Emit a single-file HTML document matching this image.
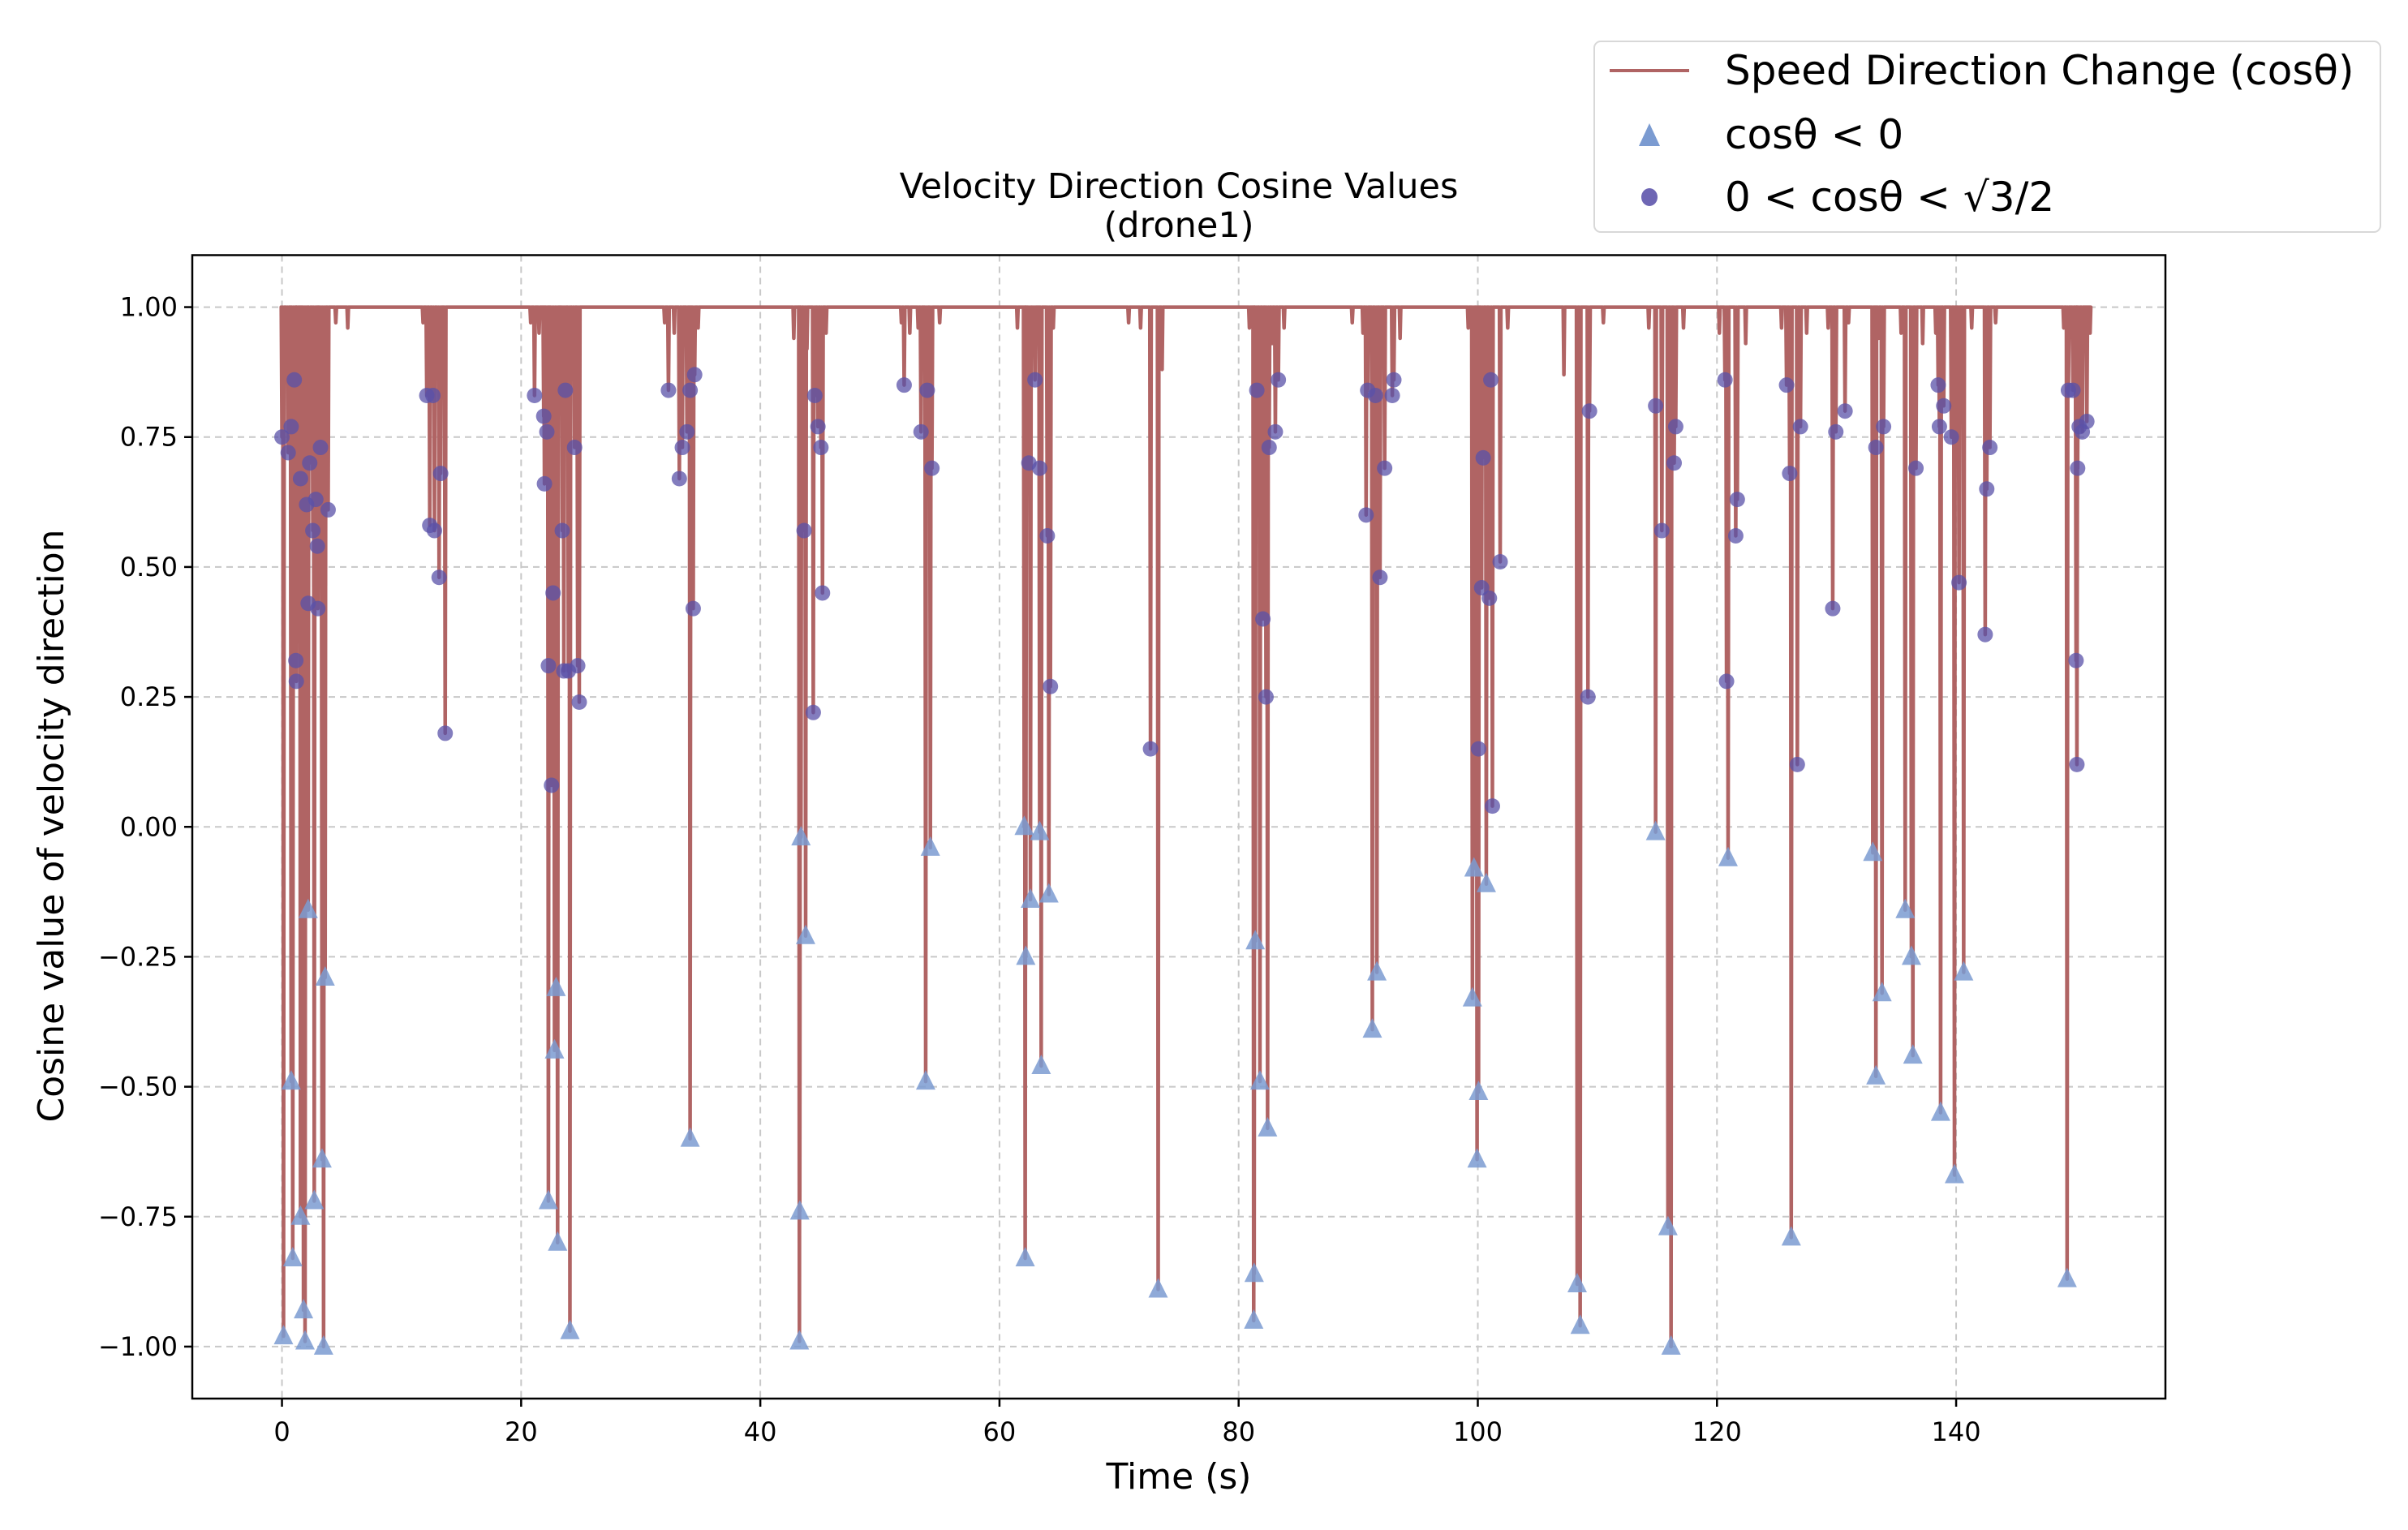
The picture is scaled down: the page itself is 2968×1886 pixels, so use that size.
<!DOCTYPE html>
<html><head><meta charset="utf-8"><style>
html,body{margin:0;padding:0;background:#fff;}
svg{display:block;font-family:"DejaVu Sans","Liberation Sans",sans-serif;}
</style></head><body>
<svg id="chart" width="2968" height="1886" viewBox="0 0 2968 1886">
<rect width="2968" height="1886" fill="#fff"/>
<g id="grid"></g>
<g id="series"></g>
<rect x="237" y="314.5" width="2432" height="1409.5" fill="none" stroke="#000" stroke-width="2.5"/>
<g id="ticks"></g>
<text x="1453" y="244" font-size="43" text-anchor="middle">Velocity Direction Cosine Values</text>
<text x="1453" y="292" font-size="43" text-anchor="middle">(drone1)</text>
<text x="1453" y="1835" font-size="44" text-anchor="middle">Time (s)</text>
<text transform="translate(78,1018) rotate(-90)" font-size="44" text-anchor="middle">Cosine value of velocity direction</text>
<g>
<rect x="1965" y="51" width="969" height="235" rx="8" fill="#fff" fill-opacity="0.85" stroke="#d8d8d8" stroke-width="2"/>
<line x1="1984" y1="87" x2="2082" y2="87" stroke="#b06464" stroke-width="4"/>
<text x="2126" y="104" font-size="50">Speed Direction Change (cosθ)</text>
<polygon points="2033,152 2046,180 2020,180" fill="#7b9bd1"/>
<text x="2126" y="183" font-size="50">cosθ &lt; 0</text>
<ellipse cx="2033" cy="243" rx="10" ry="11" fill="#6e66b4"/>
<text x="2126" y="260" font-size="50">0 &lt; cosθ &lt; √3/2</text>
</g>
</svg>
<script>
const xTicks=[0,20,40,60,80,100,120,140];
const yTicks=[-1.00,-0.75,-0.50,-0.25,0.00,0.25,0.50,0.75,1.00];
const yTickLabels=["−1.00","−0.75","−0.50","−0.25","0.00","0.25","0.50","0.75","1.00"];
const triT=[0.13,0.77,0.90,1.55,1.80,1.93,2.19,2.70,3.35,3.48,3.61,22.28,22.79,22.92,23.05,24.08,34.13,43.27,43.30,43.40,43.79,53.83,54.22,62.07,62.20,62.15,62.59,63.36,63.49,64.13,73.27,81.26,81.39,81.30,81.78,82.42,91.18,91.56,99.55,99.68,99.94,100.06,100.71,108.31,108.56,114.87,115.90,116.16,120.93,126.21,133.03,133.29,133.80,135.74,136.26,136.38,138.70,139.86,140.63,149.28];
const triV=[-0.98,-0.49,-0.83,-0.75,-0.93,-0.99,-0.16,-0.72,-0.64,-1.00,-0.29,-0.72,-0.43,-0.31,-0.80,-0.97,-0.60,-0.99,-0.74,-0.02,-0.21,-0.49,-0.04,0.00,-0.25,-0.83,-0.14,-0.01,-0.46,-0.13,-0.89,-0.95,-0.22,-0.86,-0.49,-0.58,-0.39,-0.28,-0.33,-0.08,-0.64,-0.51,-0.11,-0.88,-0.96,-0.01,-0.77,-1.00,-0.06,-0.79,-0.05,-0.48,-0.32,-0.16,-0.25,-0.44,-0.55,-0.67,-0.28,-0.87];
const cirT=[0,0.52,0.77,1.03,1.16,1.20,1.55,2.06,2.19,2.32,2.58,2.83,2.96,3.00,3.22,3.86,12.11,12.36,12.62,12.75,13.14,13.27,13.65,21.12,21.89,21.95,22.15,22.28,22.54,22.67,23.44,23.57,23.70,23.95,24.47,24.73,24.86,32.32,33.23,33.48,33.87,34.13,34.39,34.51,43.66,44.43,44.56,44.82,45.07,45.20,52.03,53.44,53.96,54.35,62.46,62.97,63.36,64.00,64.26,72.63,81.52,82.03,82.29,82.55,83.07,83.32,90.66,90.79,91.44,91.82,92.21,92.85,92.98,100.06,100.32,100.45,100.97,101.09,101.22,101.87,109.21,109.34,114.87,115.39,116.42,116.55,120.67,120.80,121.57,121.70,125.82,126.08,126.72,126.98,129.68,129.94,130.71,133.29,133.93,136.64,138.50,138.60,138.96,139.60,140.24,142.43,142.56,142.82,149.39,149.77,150.03,150.16,150.10,150.29,150.55,150.93];
const cirV=[0.75,0.72,0.77,0.86,0.32,0.28,0.67,0.62,0.43,0.70,0.57,0.63,0.54,0.42,0.73,0.61,0.83,0.58,0.83,0.57,0.48,0.68,0.18,0.83,0.79,0.66,0.76,0.31,0.08,0.45,0.57,0.30,0.84,0.30,0.73,0.31,0.24,0.84,0.67,0.73,0.76,0.84,0.42,0.87,0.57,0.22,0.83,0.77,0.73,0.45,0.85,0.76,0.84,0.69,0.70,0.86,0.69,0.56,0.27,0.15,0.84,0.40,0.25,0.73,0.76,0.86,0.60,0.84,0.83,0.48,0.69,0.83,0.86,0.15,0.46,0.71,0.44,0.86,0.04,0.51,0.25,0.80,0.81,0.57,0.70,0.77,0.86,0.28,0.56,0.63,0.85,0.68,0.12,0.77,0.42,0.76,0.80,0.73,0.77,0.69,0.85,0.77,0.81,0.75,0.47,0.37,0.65,0.73,0.84,0.84,0.32,0.69,0.12,0.77,0.76,0.78];
const minorT=[0.4,1.3,2.5,4.5,5.5,11.8,13.0,20.8,21.5,24.3,32.0,32.8,34.8,42.8,43.9,45.5,51.8,52.5,53.2,55.0,61.5,62.8,64.5,70.8,71.8,73.6,80.9,82.8,83.8,89.5,90.4,93.5,99.2,102.5,107.2,110.5,114.3,117.2,120.2,122.4,125.4,127.5,129.3,131.0,133.5,135.4,137.2,138.3,141.3,143.3,149.0,151.2];
const minorV=[0.93,0.90,0.95,0.97,0.96,0.97,0.88,0.97,0.95,0.93,0.97,0.95,0.96,0.94,0.92,0.95,0.97,0.95,0.96,0.97,0.96,0.92,0.96,0.97,0.96,0.88,0.96,0.93,0.96,0.97,0.95,0.94,0.96,0.96,0.87,0.97,0.96,0.96,0.95,0.93,0.96,0.95,0.96,0.97,0.94,0.95,0.93,0.95,0.96,0.97,0.96,0.95];

const X0=237,X1=2669,Y0=314.5,Y1=1724,TMIN=-7.5,TMAX=157.5,VMIN=-1.1,VMAX=1.1;
function xs(t){return X0+(t-TMIN)/(TMAX-TMIN)*(X1-X0);}
function ys(v){return Y1-(v-VMIN)/(VMAX-VMIN)*(Y1-Y0);}
const NS="http://www.w3.org/2000/svg";
function mk(tag,parent,attrs){const e=document.createElementNS(NS,tag);for(const k in attrs)e.setAttribute(k,attrs[k]);parent.appendChild(e);return e;}
const grid=document.getElementById('grid'),ticks=document.getElementById('ticks'),series=document.getElementById('series');
xTicks.forEach(t=>{
 const g=mk('line',grid,{x1:xs(t),x2:xs(t),y1:Y0,y2:Y1,stroke:'#c8c8c8','stroke-width':2,'stroke-dasharray':'8,6'});
 
 
 const tk=mk('line',ticks,{x1:xs(t),x2:xs(t),y1:Y1,y2:Y1+10,stroke:'#000','stroke-width':2.5});
 
 
 const tl=mk('text',ticks,{x:xs(t),y:Y1+52,'font-size':32,'text-anchor':'middle'});
 tl.textContent=String(t);
 
 
});
yTicks.forEach((v,i)=>{
 const g=mk('line',grid,{x1:X0,x2:X1,y1:ys(v),y2:ys(v),stroke:'#c8c8c8','stroke-width':2,'stroke-dasharray':'8,6'});
 
 
 const tk=mk('line',ticks,{x1:X0-10,x2:X0,y1:ys(v),y2:ys(v),stroke:'#000','stroke-width':2.5});
 
 
 const tl=mk('text',ticks,{x:X0-18,y:ys(v)+11,'font-size':32,'text-anchor':'end'});
 tl.textContent=yTickLabels[i];
 
 
});
let pts=[];
triT.forEach((t,i)=>pts.push([t,triV[i]]));
cirT.forEach((t,i)=>pts.push([t,cirV[i]]));
minorT.forEach((t,i)=>pts.push([t,minorV[i]]));
pts.sort((a,b)=>a[0]-b[0]);
let d='M'+xs(0)+','+ys(0.97);
pts.forEach(p=>{d+=' L'+xs(p[0]-0.06)+','+ys(1.0)+' L'+xs(p[0])+','+ys(p[1])+' L'+xs(p[0]+0.06)+','+ys(1.0);});
d+=' L'+xs(150.9)+','+ys(1.0);
const ln=mk('path',series,{d:d,fill:'none',stroke:'#b06464','stroke-width':4.5,'stroke-linejoin':'round'});


triT.forEach((t,i)=>{
 const x=xs(t),y=ys(triV[i]);
 const p=mk('polygon',series,{points:`${x},${y-14} ${x+12},${y+10} ${x-12},${y+10}`,fill:'#7b9bd1','fill-opacity':0.85});
 
 
});
cirT.forEach((t,i)=>{
 const c=mk('circle',series,{cx:xs(t),cy:ys(cirV[i]),r:9.5,fill:'#5a52a8','fill-opacity':0.75});
 
 
});
</script>
</body></html>
